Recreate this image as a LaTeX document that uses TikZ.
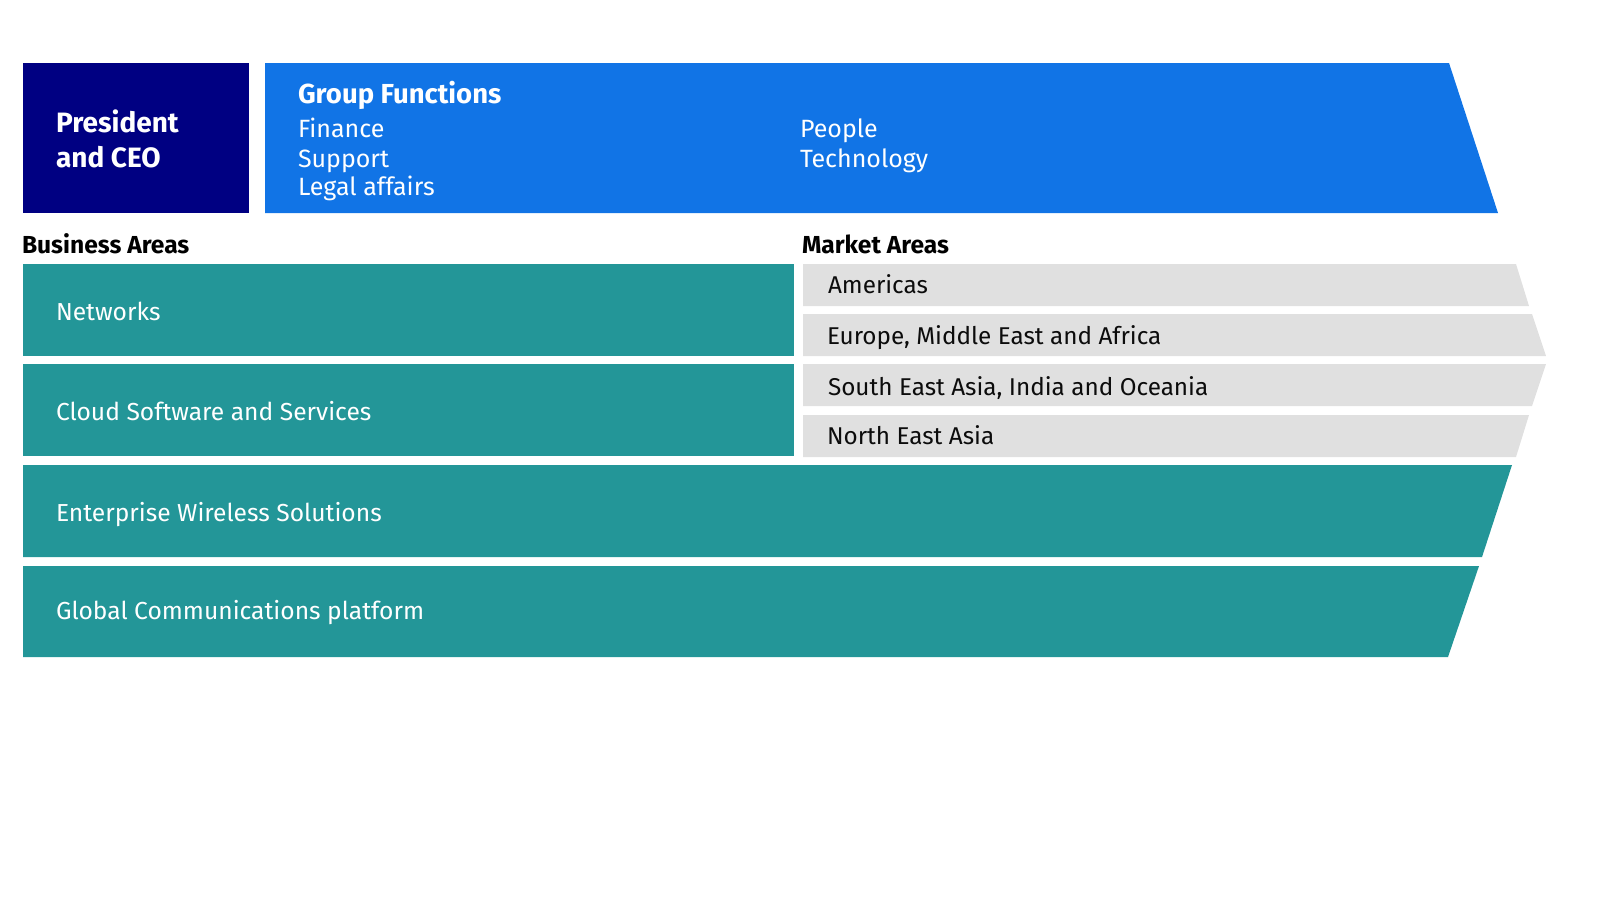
\documentclass[tikz,border=0pt]{standalone}
\usepackage{fontspec}
\setmainfont{Fira Sans}
\definecolor{ceonavy}{RGB}{0,0,130}
\definecolor{gfblue}{RGB}{17,116,230}
\definecolor{bateal}{RGB}{35,150,152}
\definecolor{magrey}{RGB}{224,224,224}
\definecolor{txtdark}{RGB}{12,12,12}
\tikzset{
  lbl/.style={anchor=base west, inner sep=0pt, outer sep=0pt},
  wtxt/.style={lbl, text=white, font=\fontsize{24.6}{30}\selectfont},
  gtxt/.style={lbl, text=txtdark, font=\fontsize{24.3}{28}\selectfont},
  htxt/.style={lbl, text=black, font=\bfseries\fontsize{24.6}{28}\selectfont},
  ftxt/.style={lbl, text=white, font=\fontsize{25}{28}\selectfont},
  ttxt/.style={lbl, text=white, font=\bfseries\fontsize{28}{32}\selectfont},
}
\begin{document}
\begin{tikzpicture}[x=1pt,y=-1pt]
\useasboundingbox (0,0) rectangle (1600,900);
% top row
\fill[ceonavy] (23,63) rectangle (249,213);
\fill[gfblue] (265,63) -- (1449,63) -- (1498,213) -- (265,213) -- cycle;
\node[ttxt] (pres) at (56,132) {President};
\node[ttxt] (ceo) at (56,167) {and CEO};
\node[ttxt, font=\bfseries\fontsize{27.5}{32}\selectfont] (gf) at (298,103) {Group Functions};
\node[ftxt] (fin) at (298,137) {Finance};
\node[ftxt] (sup) at (298,167) {Support};
\node[ftxt] (leg) at (298,195) {Legal affairs};
\node[ftxt] (peo) at (800,137) {People};
\node[ftxt] (tec) at (800,167) {Technology};
% headings
\node[htxt] (ba) at (22,253) {Business Areas};
\node[htxt] (ma) at (802,253) {Market Areas};
% business areas
\fill[bateal] (23,264) rectangle (794,356);
\fill[bateal] (23,364) rectangle (794,456);
\fill[bateal] (23,465) -- (1512,465) -- (1482,557) -- (23,557) -- cycle;
\fill[bateal] (23,566) -- (1479,566) -- (1448,657) -- (23,657) -- cycle;
\node[wtxt] (net) at (56,320) {Networks};
\node[wtxt] (cld) at (56,420) {Cloud Software and Services};
\node[wtxt] (ent) at (56,521) {Enterprise Wireless Solutions};
\node[wtxt] (glo) at (56,619) {Global Communications platform};
% market areas
\fill[magrey] (803,264) -- (1516,264) -- (1529,306) -- (803,306) -- cycle;
\fill[magrey] (803,314) -- (1532,314) -- (1546,356) -- (803,356) -- cycle;
\fill[magrey] (803,364) -- (1546,364) -- (1532,406) -- (803,406) -- cycle;
\fill[magrey] (803,415) -- (1529,415) -- (1516,457) -- (803,457) -- cycle;
\node[gtxt] (am) at (828,293) {Americas};
\node[gtxt] (eu) at (827,344) {Europe, Middle East and Africa};
\node[gtxt] (se) at (828,395) {South East Asia, India and Oceania};
\node[gtxt] (ne) at (827,444) {North East Asia};
\end{tikzpicture}
\end{document}
